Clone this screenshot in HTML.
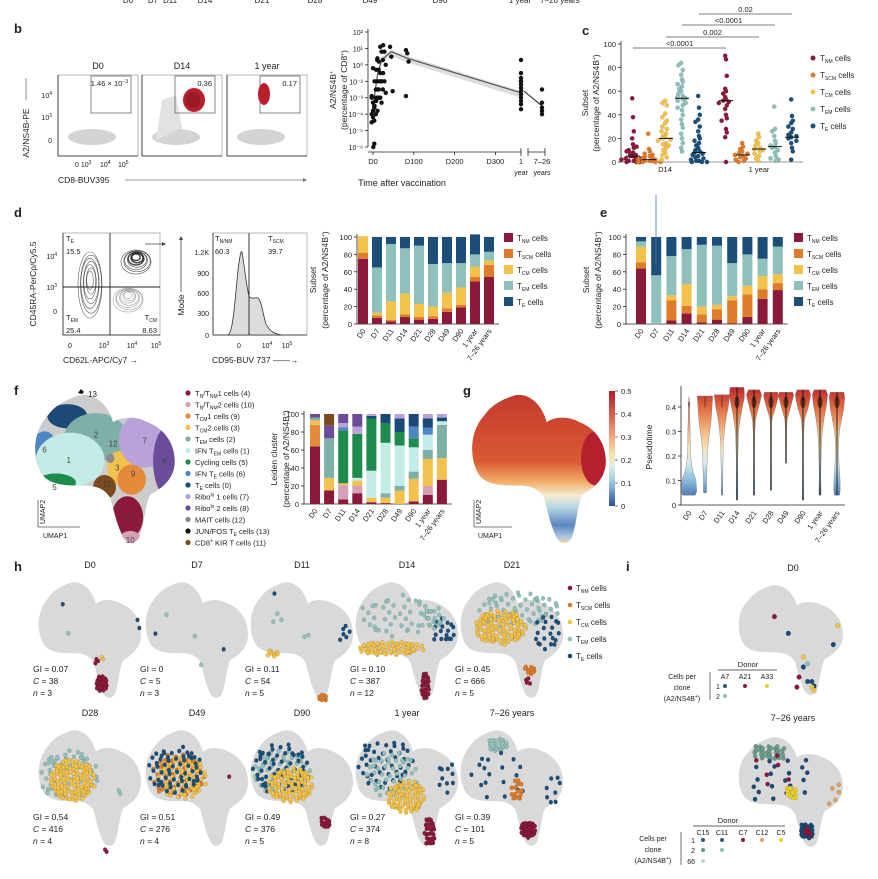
<!DOCTYPE html>
<html><head><meta charset="utf-8">
<style>
html,body{margin:0;padding:0;background:#fff;}
svg{display:block;font-family:"Liberation Sans",sans-serif;}
text{fill:#222;}
</style></head>
<body>
<svg id="fig" width="878" height="879" viewBox="0 0 878 879" xmlns="http://www.w3.org/2000/svg">
<defs>
<linearGradient id="pseudoGrad" x1="0" y1="0" x2="0" y2="1">
<stop offset="0" stop-color="#b2182b"/><stop offset="0.2" stop-color="#d6604d"/><stop offset="0.4" stop-color="#f4a582"/><stop offset="0.55" stop-color="#f6e3a6"/><stop offset="0.65" stop-color="#e0f0ec"/><stop offset="0.8" stop-color="#92c5de"/><stop offset="1" stop-color="#2c4f96"/>
</linearGradient>
<linearGradient id="umapG" x1="0" y1="0" x2="0" y2="1">
<stop offset="0" stop-color="#c33a2e"/><stop offset="0.45" stop-color="#d95a35"/><stop offset="0.58" stop-color="#f2a863"/><stop offset="0.68" stop-color="#f5ecd0"/><stop offset="0.76" stop-color="#b7d8e6"/><stop offset="0.88" stop-color="#5b86c0"/><stop offset="0.97" stop-color="#b8cde0"/><stop offset="1" stop-color="#f0cf7a"/>
</linearGradient>
</defs>
</svg>
<script>
// ---------- data: panel b line chart ----------
const bYTickLabels = ['10²','10¹','10⁰','10⁻²','10⁻³','10⁻⁴','10⁻⁵','10⁻⁶'];
const bYTickValues = [2,1,0,-1,-2,-3,-4,-5];
const bXTickLabels = ['D0','D100','D200','D300'];
const bXTickDays = [0,100,200,300];
const bDays = [0,4,7,11,14,21,28,45,84];
const bDayValues = [
 [-2,-2.3,-2.6,-3,-3.2,-3.4,-3.5,-2.8,-2.5,-1.9,-0.2,-4.8],
 [-5.2],
 [-1,-1.5,-2,-2.5,-3,0.3],
 [-0.3,-1,-1.5,-2,-2.8,0.2,-2.2],
 [0.4,-0.3,-1,-1.5,-2],
 [1.1,0.8,0.3,-0.5,-1,-1.5,-2,-2.3],
 [1.2,0.8,0,-0.5,-1,-1.7],
 [1.1,0.5,-1.6],
 [0.9,0.7,0.2,-1.9]];
const bYearValues = [0.3,-0.5,-0.8,-1,-1.2,-1.4,-1.6,-1.8,-2,-2.2,-2.4,-2.7,-1];
const bLongValues = [-1.5,-2.3,-2.6,-2.8,-3];
const bMeanDays = [0,11,21,45,84];
const bMeanVals = [-2.5,-0.6,0.3,0.8,0.4];
const bMeanYear = -1.7;
const bMeanLong = -2.5;

// ---------- data: panel c dot plot ----------
const cSubsets = ['TNM','TSCM','TCM','TEM','TE'];
const cD14 = [
 [54,38,26,20,15,12,10,8,7,6,5,5,4,3,3,2,2,1,1,0,0,0,13,9],
 [24,11,9,7,6,5,4,3,3,2,2,1,1,1,0,0,0,0],
 [52,50,48,41,38,35,33,30,28,26,24,22,21,20,19,18,16,15,14,12,10,8,6,4,2],
 [84,82,78,74,70,68,66,64,62,60,58,56,55,54,53,52,50,48,46,44,40,36,32,29,24,20,16,12,9],
 [56,46,40,36,34,30,26,22,20,18,16,14,12,10,9,8,7,6,5,4,3,2,1,1,0,0,0]];
const c1Y = [
 [90,87,73,62,60,58,55,53,52,51,50,48,45,40,37,35,28,25,21,0],
 [16,13,11,9,8,7,6,5,4,3,2,1,0],
 [24,21,18,16,14,12,11,10,9,7,5,3,1],
 [47,28,26,22,18,16,14,13,12,10,8,5,3,2,1],
 [53,39,35,33,30,28,25,23,22,21,20,18,16,12,9,2]];
const cMedD14 = [5,2,20,54,8];
const cMed1Y = [52,6,11,13,21];
const cPLabels = ['<0.0001','0.002','<0.0001','0.02'];
const cYTicks = [0,20,40,60,80,100];

// ---------- data: stacked bars d/e ----------
const timeLabels = ['D0','D7','D11','D14','D21','D28','D49','D90','1 year','7–26 years'];
const dTNM  = [75,7,3,8,5,6,14,19,49,54];
const dTSCM = [7,3,2,3,3,3,4,3,5,14];
const dTCM  = [19,3,21,24,15,11,18,20,12,5];
const dTEM  = [0,52,66,52,67,49,34,28,14,10];
const dTE   = [0,35,8,13,10,31,30,30,23,17];
const eTNM  = [64,0,4,12,2,5,1,8,29,39];
const eTSCM = [7,0,23,9,9,12,26,26,11,8];
const eTCM  = [18,0,6,25,9,5,5,10,15,10];
const eTEM  = [6,56,45,40,71,68,38,36,20,32];
const eTE   = [5,44,22,14,9,10,30,20,25,11];

// ---------- data: Leiden clusters f ----------
const leidenNames = ['TN/TNM1','TN/TNM2','TCM1','TCM2','TEM','IFN TEM','Cycling','IFN TE','TE','Ribo1','Ribo2','MAIT','JUN/FOS','KIR'];
const leidenD0  = [64,0,24,5,3,0,0,0,0,0,4,0,0,0];
const leidenD7  = [15,0,0,14,44,0,0,0,0,0,14,0,0,13];
const leidenD11 = [5,16,0,2,0,0,59,3,0,5,10,0,0,0];
const leidenD14 = [12,8,0,6,0,3,49,0,0,8,14,0,0,0];
const leidenD21 = [2,0,0,5,0,30,58,0,3,2,0,0,0,0];
const leidenD28 = [1,0,0,6,5,56,22,0,10,0,0,0,0,0];
const leidenD49 = [0,0,0,15,5,45,15,0,15,5,0,0,0,0];
const leidenD90 = [3,0,0,25,8,27,10,13,14,0,0,0,0,0];
const leiden1Y  = [10,10,0,30,10,17,0,8,10,5,0,0,0,0];
const leidenLong= [27,0,0,24,37,4,0,0,4,4,0,0,0,0];

// ---------- data: violins g ----------
const vMin = [0.04,0.05,0.04,0.02,0.04,0.06,0.17,0.02,0.04,0.04];
const vMax = [0.42,0.445,0.45,0.48,0.47,0.46,0.46,0.47,0.47,0.46];
const vProfileD0  = [0,1,.9,.4,.2,.15,.15,.1,.05,.02,0];
const vProfileD7  = [0,.2,.2,.25,.3,.4,.6,.8,.9,1,.9];
const vProfileD11 = [0,.1,.1,.1,.15,.15,.3,.5,.8,1,.6];
const vProfileD14 = [0,.1,.1,.1,.1,.15,.2,.4,.7,1,.8];
const vProfileD21 = [0,.05,.05,.05,.05,.05,.1,.2,.6,1,.3];
const vProfileD28 = [0,.05,.05,.05,.05,.05,.05,.1,.6,1,.3];
const vProfileD49 = [0,0,0,.05,.05,.05,.05,.15,.6,1,.3];
const vProfileD90 = [0,.05,.05,.05,.05,.05,.1,.2,.7,1,.4];
const vProfile1Y  = [0,.15,.1,.1,.15,.2,.3,.5,.8,1,.4];
const vProfileLong= [0,.4,.4,.3,.2,.2,.3,.6,.9,1,.4];
const vTicks = [0,0.1,0.2,0.3,0.4];

// ---------- data: panel h stats ----------
const hTitles = ['D0','D7','D11','D14','D21','D28','D49','D90','1 year','7–26 years'];
const hGI = ['0.07','0','0.11','0.10','0.45','0.54','0.51','0.49','0.27','0.39'];
const hC = ['38','5','54','387','666','416','276','376','374','101'];
const hN = ['3','3','5','12','5','4','4','5','8','5'];

const COL = {TNM:'#8b1a3a',TSCM:'#e07b2a',TCM:'#f3c24a',TEM:'#8fc0bb',TE:'#1b4f7a'};
const subsetColors = [COL.TNM,COL.TSCM,COL.TCM,COL.TEM,COL.TE];
const leidenColors = ['#8b1a3a','#d6a0b8','#e58a3a','#f2c24e','#7fb0a8','#c4ece6','#1e8a4c','#4f86c6','#1b4a78','#b9a2d8','#6b4c9a','#8a8a8a','#111111','#7a4a1e'];

const svg = document.getElementById('fig');
const NS = 'http://www.w3.org/2000/svg';
function add(parent, tag, attrs, name) {
  const el = document.createElementNS(NS, tag);
  for (const k in attrs) el.setAttribute(k, attrs[k]);
  
  
  parent.appendChild(el);
  return el;
}
function T(x, y, s, size, anchor, name, extra) {
  const a = {x:x, y:y, 'font-size':size||8, 'text-anchor':anchor||'start'};
  if (extra) for (const k in extra) a[k] = extra[k];
  const el = add(svg, 'text', a, name);
  el.innerHTML = s;
  return el;
}
function line(x1,y1,x2,y2,stroke,w,name){ return add(svg,'line',{x1:x1,y1:y1,x2:x2,y2:y2,stroke:stroke||'#222','stroke-width':w||0.8},name); }
function subLabel(s){ return 'T<tspan font-size="5" dy="2">' + s + '</tspan><tspan dy="-2"> cells</tspan>'; }
function panelLabel(x,y,l){ T(x,y,l,13,'start','panel-label-'+l,{'font-weight':'bold'}); }

// ---------- header (cut off) ----------
const headerLabels = ['D0','D7','D11','D14','D21','D28','D49','D90','1 year','7–26 years'];
const headerX = [128,153,170,205,262,315,370,440,520,560];
headerLabels.forEach((l,i)=>T(headerX[i],3,l,8,'middle','header-tick-label'));

// ---------- panel b flow plots ----------
panelLabel(14,33,'b');
const flowBoxes = [58,142,227];
const flowTitles = ['D0','D14','1 year'];
const flowFreq = ['1.46 × 10<tspan font-size="5" dy="-3">−3</tspan>','0.36','0.17'];
flowBoxes.forEach((bx,i)=>{
  add(svg,'rect',{x:bx,y:75,width:80,height:81,fill:'#fff',stroke:'#999','stroke-width':0.7},'flow-plot-frame');
  line(bx,75,bx,156,'#222',0.8,'flow-y-axis');
  line(bx,156,bx+80,156,'#222',0.8,'flow-x-axis');
  T(bx+40,69,flowTitles[i],9,'middle','flow-plot-title');
  add(svg,'ellipse',{cx:bx+34,cy:137,rx:24,ry:8,fill:'#d4d4d4'},'cd8-negative-cloud');
  if(i===1){ add(svg,'path',{d:`M${bx+14} 140 L${bx+20} 100 L${bx+34} 95 L${bx+40} 128 Z`,fill:'#e2e2e2'},'cd8-cloud-spread'); }
  const gx = bx+33;
  add(svg,'rect',{x:gx,y:76,width:40,height:37,fill:'none',stroke:'#555','stroke-width':0.7},'tetramer-gate');
  T(gx+37,86,flowFreq[i],7.5,'end','gate-frequency');
});
add(svg,'ellipse',{cx:194,cy:100,rx:11,ry:12,fill:'#b8202e'},'d14-tetramer-positive-cells');
add(svg,'ellipse',{cx:193,cy:100,rx:7,ry:8,fill:'#8e1622',opacity:0.7},'d14-tetramer-core');
add(svg,'ellipse',{cx:264,cy:94,rx:6,ry:11,fill:'#b8202e'},'1y-tetramer-positive-cells');
T(52,98,'10<tspan font-size="5" dy="-3">4</tspan>',7,'end','flow-y-tick');
T(52,120,'10<tspan font-size="5" dy="-3">3</tspan>',7,'end','flow-y-tick');
T(52,143,'0',7,'end','flow-y-tick');
T(75,167,'0 10<tspan font-size="5" dy="-3">3</tspan>',7,'start','flow-x-tick');
T(100,167,'10<tspan font-size="5" dy="-3">4</tspan>',7,'start','flow-x-tick');
T(118,167,'10<tspan font-size="5" dy="-3">5</tspan>',7,'start','flow-x-tick');
T(58,183,'CD8-BUV395',8.5,'start','flow-x-title');
line(125,180,305,180,'#777',0.8,'flow-x-arrow');
add(svg,'path',{d:'M307 180 l-4 -2 v4 z',fill:'#777'},'flow-x-arrowhead');
T(0,0,'A2/NS4B-PE',8.5,'middle','flow-y-title',{transform:'translate(29,133) rotate(-90)'});
line(26,100,26,78,'#777',0.8,'flow-y-arrow');

// ---------- panel b line chart ----------
const bx0=368, byTop=32, byBot=147, bxBreak=521;
function bY(v){
  const n=bYTickValues.length, step=(byBot-byTop)/(n-1);
  if(v>=bYTickValues[0]) return byTop-(v-bYTickValues[0])*step;
  for(let i=0;i<n-1;i++){ const a=bYTickValues[i], b=bYTickValues[i+1];
    if(v<=a && v>=b) return byTop+step*(i+(a-v)/(a-b)); }
  return byBot;
}
function bX(d){ return 373 + d*0.408; }
const bXYear=521, bXLong=542;
line(bx0,byTop-3,bx0,byBot,'#222',0.8,'line-chart-y-axis');
line(bx0,byBot+5,bxBreak,byBot+5,'#222',0.8,'line-chart-x-axis');
line(528,byBot+5,545,byBot+5,'#222',0.8,'line-chart-x-axis-break');
bYTickLabels.forEach((l,i)=>{ const y=bY(bYTickValues[i]); line(bx0-3,y,bx0,y,'#222',0.8,'y-tick'); T(bx0-5,y+3,l,7,'end','y-tick-label'); });
bXTickLabels.forEach((l,i)=>{ const x=bX(bXTickDays[i]); line(x,byBot+5,x,byBot+8,'#222',0.8,'x-tick'); T(x,byBot+17,l,7.5,'middle','x-tick-label'); });
line(bXYear,byBot+1,bXYear,byBot+9,'#222',0.8,'x-tick'); line(528,byBot+1,528,byBot+9,'#222',0.8,'x-tick'); line(545,byBot+1,545,byBot+9,'#222',0.8,'x-tick');
T(bXYear,byBot+17,'1',7.5,'middle','x-tick-label'); T(bXYear,byBot+28,'year',7,'middle','x-tick-label');
T(bXLong,byBot+17,'7–26',7.5,'middle','x-tick-label'); T(bXLong,byBot+28,'years',7,'middle','x-tick-label');
T(402,186,'Time after vaccination',9,'middle','x-axis-title');
T(0,0,'A2/NS4B<tspan font-size="5" dy="-3">+</tspan>',8.5,'middle','y-axis-title',{transform:'translate(336,90) rotate(-90)'});
T(0,0,'(percentage of CD8<tspan font-size="5" dy="-3">+</tspan><tspan dy="3">)</tspan>',8.5,'middle','y-axis-title',{transform:'translate(347,90) rotate(-90)'});
let bandPts=[]; bMeanDays.forEach((d,i)=>bandPts.push([bX(d),bY(bMeanVals[i]+0.15)]));
bandPts.push([bXYear,bY(bMeanYear+0.1)]);
let bandLow=[]; bMeanDays.forEach((d,i)=>bandLow.push([bX(d),bY(bMeanVals[i]-0.25)])); bandLow.push([bXYear,bY(bMeanYear-0.3)]);
add(svg,'path',{d:'M'+bandPts.map(p=>p.join(' ')).join(' L')+' L'+bandLow.reverse().map(p=>p.join(' ')).join(' L')+'Z',fill:'#ddd'},'mean-confidence-band');
let meanPts = bMeanDays.map((d,i)=>[bX(d),bY(bMeanVals[i])]); meanPts.push([bXYear,bY(bMeanYear)]);
add(svg,'polyline',{points:meanPts.map(p=>p.join(',')).join(' '),fill:'none',stroke:'#555','stroke-width':1.2},'mean-trend-line');
line(bXYear+3,bY(bMeanYear+0.1),bXLong,bY(bMeanLong),'#222',1,'long-term-trend-line');
bDays.forEach((d,i)=>bDayValues[i].forEach((v,j)=>add(svg,'circle',{cx:bX(d)+(j%3-1)*1.3,cy:bY(v),r:2.2,fill:'#111'},'donor-frequency-point')));
bYearValues.forEach((v,j)=>add(svg,'circle',{cx:bXYear,cy:bY(v),r:2.2,fill:'#111'},'donor-frequency-point'));
bLongValues.forEach((v,j)=>add(svg,'circle',{cx:bXLong,cy:bY(v),r:2.2,fill:'#111'},'donor-frequency-point'));

// ---------- panel c dot plot ----------
panelLabel(582,35,'c');
const cAx=621, cY0=162, cY100=44;
function cY(v){ return cY0-(cY0-cY100)*v/100; }
const cX14=[633,649,666,682,699], cX1Y=[726,743,759,775,792];
line(cAx,cY100-3,cAx,cY0,'#222',0.8,'c-y-axis');
line(cAx,cY0,803,cY0,'#bbb',1.5,'c-x-axis');
cYTicks.forEach(t=>{ line(cAx-3,cY(t),cAx,cY(t),'#222',0.8,'c-y-tick'); T(cAx-5,cY(t)+3,String(t),7.5,'end','c-y-tick-label'); });
T(665,172,'D14',7.5,'middle','c-group-label'); T(759,172,'1 year',7.5,'middle','c-group-label');
T(0,0,'Subset',8.5,'middle','c-y-title',{transform:'translate(588,103) rotate(-90)'});
T(0,0,'(percentage of A2/NS4B<tspan font-size="5" dy="-3">+</tspan><tspan dy="3">)</tspan>',8.5,'middle','c-y-title',{transform:'translate(599,103) rotate(-90)'});
function beeswarm(vals, cx, color, name){
  const counts={};
  vals.forEach((v,idx)=>{ const k=Math.round(v/4); counts[k]=(counts[k]||0)+1; const n=counts[k];
    const off=(n%2?1:-1)*Math.floor(n/2)*3.6 + ((idx%3)-1)*0.8;
    add(svg,'circle',{cx:cx+off,cy:cY(v),r:2.2,fill:color,stroke:'rgba(0,0,0,0.25)','stroke-width':0.3},name); });
}
cSubsets.forEach((s,i)=>{ beeswarm(cD14[i],cX14[i],subsetColors[i],'d14-'+s.toLowerCase()+'-dot');
  line(cX14[i]-7,cY(cMedD14[i]),cX14[i]+7,cY(cMedD14[i]),'#111',1,'median-line');
  beeswarm(c1Y[i],cX1Y[i],subsetColors[i],'1y-'+s.toLowerCase()+'-dot');
  line(cX1Y[i]-7,cY(cMed1Y[i]),cX1Y[i]+7,cY(cMed1Y[i]),'#111',1,'median-line'); });
const sigY=[48,37,25,14];
cPLabels.forEach((l,i)=>{ const x1=[cX14[0],cX14[2],cX14[3],cX14[4]][i], x2=[cX1Y[0],cX1Y[2],cX1Y[3],cX1Y[4]][i];
  line(x1,sigY[i],x2,sigY[i],'#555',0.7,'significance-bracket'); T((x1+x2)/2,sigY[i]-2,l,7.5,'middle','p-value-label'); });
const legSub=['NM','SCM','CM','EM','E'];
legSub.forEach((s,i)=>{ add(svg,'circle',{cx:813,cy:58+i*17,r:2.5,fill:subsetColors[i]},'c-legend-marker'); T(820,61+i*17,subLabel(s),8,'start','c-legend-label'); });

// ---------- panel d flow ----------
panelLabel(14,217,'d');
add(svg,'rect',{x:63,y:233,width:97,height:102,fill:'#fff',stroke:'#999','stroke-width':0.7},'contour-frame');
line(63,233,63,335,'#222',0.8,'contour-y-axis'); line(63,335,160,335,'#222',0.8,'contour-x-axis');
const contourBlobs=[[90,285,12,33,'#333'],[136,262,15,12,'#222'],[128,300,15,12,'#888']];
contourBlobs.forEach((b,bi)=>{ for(let k=0;k<7;k++){ add(svg,'ellipse',{cx:b[0]+(k%2),cy:b[1]-k*0.8,rx:b[2]*(1-k*0.12),ry:b[3]*(1-k*0.12),fill:'none',stroke:b[4],'stroke-width':bi==1&&k>3?1.5:0.6,opacity:0.8},'contour-line'); } });
line(110,233,110,335,'#222',0.9,'contour-gate-vertical'); line(63,287,160,287,'#222',0.9,'contour-gate-horizontal');
T(66,241,'T<tspan font-size="5" dy="2">E</tspan>',7.5,'start','gate-label-te'); T(66,254,'15.5',7.5,'start','gate-value');
T(66,320,'T<tspan font-size="5" dy="2">EM</tspan>',7.5,'start','gate-label-tem'); T(66,333,'25.4',7.5,'start','gate-value');
T(157,320,'T<tspan font-size="5" dy="2">CM</tspan>',7.5,'end','gate-label-tcm'); T(157,333,'8.63',7.5,'end','gate-value');
T(57,259,'10<tspan font-size="5" dy="-3">4</tspan>',7,'end','contour-y-tick'); T(57,290,'10<tspan font-size="5" dy="-3">3</tspan>',7,'end','contour-y-tick'); T(57,314,'0',7,'end','contour-y-tick');
T(70,348,'0',7,'middle','contour-x-tick'); T(104,348,'10<tspan font-size="5" dy="-3">3</tspan>',7,'middle','contour-x-tick'); T(132,348,'10<tspan font-size="5" dy="-3">4</tspan>',7,'middle','contour-x-tick'); T(156,348,'10<tspan font-size="5" dy="-3">5</tspan>',7,'middle','contour-x-tick');
T(63,363,'CD62L-APC/Cy7 →',8.5,'start','contour-x-title');
T(0,0,'CD45RA-PerCp/Cy5.5',8.5,'middle','contour-y-title',{transform:'translate(36,284) rotate(-90)'});
line(145,244,163,244,'#444',0.8,'gate-arrow'); add(svg,'path',{d:'M166 244 l-4 -2 v4z',fill:'#444'},'gate-arrowhead');
add(svg,'rect',{x:213,y:233,width:94,height:102,fill:'#fff',stroke:'#999','stroke-width':0.7},'histogram-frame');
line(213,233,213,335,'#222',0.8,'histogram-y-axis'); line(213,335,307,335,'#222',0.8,'histogram-x-axis');
add(svg,'path',{d:'M228 335 C233 333 235 300 238 270 C240 255 241 250 242 252 C244 262 246 285 249 296 C251 300 254 297 258 298 C262 302 263 315 266 324 C270 332 275 334 282 335 Z',fill:'#dcdcdc',stroke:'#333','stroke-width':0.8},'cd95-histogram');
line(249,233,249,335,'#222',0.9,'cd95-gate-line');
[['1.2K',252],['900',273],['600',293],['300',313],['0',335]].forEach(t=>T(209,t[1]+3,t[0],7,'end','histogram-y-tick'));
T(215,241,'T<tspan font-size="5" dy="2">N/NM</tspan>',7.5,'start','hist-label-tn'); T(215,254,'60.3',7.5,'start','hist-value');
T(268,241,'T<tspan font-size="5" dy="2">SCM</tspan>',7.5,'start','hist-label-tscm'); T(268,254,'39.7',7.5,'start','hist-value');
T(239,348,'0',7,'middle','hist-x-tick'); T(267,348,'10<tspan font-size="5" dy="-3">4</tspan>',7,'middle','hist-x-tick'); T(287,348,'10<tspan font-size="5" dy="-3">5</tspan>',7,'middle','hist-x-tick');
T(212,363,'CD95-BUV 737 ——→',8.5,'start','hist-x-title');
T(0,0,'Mode',8.5,'middle','hist-y-title',{transform:'translate(184,305) rotate(-90)'});
line(181,292,181,240,'#444',0.8,'hist-y-arrow'); add(svg,'path',{d:'M181 236 l-2 4 h4z',fill:'#444'},'hist-y-arrowhead');

// ---------- stacked bar helper ----------
function stacked(opts){
  const {ax, y0, y100, x0, dx, w, series, colors, labels, prefix} = opts;
  const yS = v=> y0-(y0-y100)*v/100;
  line(ax,y100-3,ax,y0,'#222',0.8,prefix+'-y-axis'); line(ax,y0,x0+dx*(labels.length-1)+w,y0,'#222',0.8,prefix+'-x-axis');
  [0,20,40,60,80,100].forEach(t=>{ line(ax-3,yS(t),ax,yS(t),'#222',0.8,prefix+'-y-tick'); T(ax-5,yS(t)+3,String(t),7.5,'end',prefix+'-y-tick-label'); });
  labels.forEach((l,i)=>{
    const cx=x0+dx*i; let acc=0;
    series.forEach((s,k)=>{ const v=s[i]; if(v>0){ add(svg,'rect',{x:cx-w/2,y:yS(acc+v),width:w,height:yS(acc)-yS(acc+v),fill:colors[k]},prefix+'-bar-segment'); } acc+=v; });
    T(0,0,l,7.5,'end',prefix+'-x-tick-label',{transform:`translate(${cx+3},${y0+7}) rotate(-55)`});
  });
}
stacked({ax:357,y0:324,y100:237,x0:363,dx:14,w:10,series:[dTNM,dTSCM,dTCM,dTEM,dTE],colors:subsetColors,labels:timeLabels,prefix:'d'});
T(0,0,'Subset',8.5,'middle','d-y-title',{transform:'translate(316,280) rotate(-90)'});
T(0,0,'(percentage of A2/NS4B<tspan font-size="5" dy="-3">+</tspan><tspan dy="3">)</tspan>',8.5,'middle','d-y-title',{transform:'translate(328,280) rotate(-90)'});
legSub.forEach((s,i)=>{ add(svg,'rect',{x:504,y:233+i*16,width:9,height:9,fill:subsetColors[i]},'d-legend-swatch'); T(517,241+i*16,subLabel(s),8,'start','d-legend-label'); });
panelLabel(600,217,'e');
stacked({ax:626,y0:324,y100:237,x0:641,dx:15.2,w:10,series:[eTNM,eTSCM,eTCM,eTEM,eTE],colors:subsetColors,labels:timeLabels,prefix:'e'});
line(656,195,656,265,'#4a77a8',0.8,'e-error-bar');
T(0,0,'Subset',8.5,'middle','e-y-title',{transform:'translate(589,280) rotate(-90)'});
T(0,0,'(percentage of A2/NS4B<tspan font-size="5" dy="-3">+</tspan><tspan dy="3">)</tspan>',8.5,'middle','e-y-title',{transform:'translate(601,280) rotate(-90)'});
legSub.forEach((s,i)=>{ add(svg,'rect',{x:794,y:233+i*16,width:9,height:9,fill:subsetColors[i]},'e-legend-swatch'); T(807,241+i*16,subLabel(s),8,'start','e-legend-label'); });

// ---------- UMAP shape ----------
const UMAP_D='M30 3 C40 -1 52 6 56 20 C62 16 72 16 80 20 C92 24 100 35 99 48 C98 58 90 64 82 68 C78 76 78 88 74 97 C70 102 64 100 62 94 C58 86 56 76 54 70 C50 64 44 62 36 62 C22 62 8 62 4 50 C-1 38 2 24 10 16 C16 8 24 5 30 3 Z';
let clipId=0;
function umap(x,y,w,h,fill,name){
  const g=add(svg,'g',{transform:`translate(${x},${y}) scale(${w/100},${h/100})`},name);
  const cid='clip'+(clipId++);
  const cp=add(g,'clipPath',{id:cid},'umap-clip'); add(cp,'path',{d:UMAP_D},'umap-clip-path');
  add(g,'path',{d:UMAP_D,fill:fill},'umap-outline');
  const inner=add(g,'g',{'clip-path':`url(#${cid})`},'umap-clusters');
  return {g:g,inner:inner,sx:w/100,sy:h/100};
}
panelLabel(14,395,'f');
const fU=umap(33,392,143,151,'#ccc','leiden-umap');
const fClusters=[[8,24,16,14,8],[7,8,38,9,12],[4,44,30,22,16],[5,26,45,24,18],[6,16,60,14,6],[3,61,50,9,11],[13,50,63,8,8],[2,69,58,10,10],[9,78,32,18,18],[10,93,46,9,22],[0,66,83,11,14],[1,68,98,8,6],[11,54,44,3,3]];
fClusters.forEach(c=>add(fU.inner,'ellipse',{cx:c[1],cy:c[2],rx:c[3],ry:c[4],fill:leidenColors[c[0]]},'leiden-cluster-region'));
const fNums=[['0',25,15],['6',8,38],['2',44,28],['1',25,45],['5',15,63],['12',56,34],['3',59,50],['7',78,32],['8',92,46],['9',70,54],['11',52,61],['4',66,83],['10',68,98]];
fNums.forEach(n=>T(33+n[1]*1.43,392+n[2]*1.51+3,n[0],8,'middle','cluster-number',{style:'fill:#444'}));
T(88,397,'13',8,'start','cluster-number');
add(svg,'path',{d:'M78 393 l3 -4 l3 3 l-2 2z',fill:'#111'},'cluster-13-cells');
line(38,500,38,527,'#555',0.8,'umap2-axis'); line(38,527,80,527,'#555',0.8,'umap1-axis');
T(0,0,'UMAP2',7,'start','umap2-label',{transform:'translate(45,524) rotate(-90)'}); T(43,538,'UMAP1',7,'start','umap1-label');
const fLegend=['T<tspan font-size="5" dy="2">N</tspan><tspan dy="-2">/T</tspan><tspan font-size="5" dy="2">NM</tspan><tspan dy="-2">1 cells (4)</tspan>','T<tspan font-size="5" dy="2">N</tspan><tspan dy="-2">/T</tspan><tspan font-size="5" dy="2">NM</tspan><tspan dy="-2">2 cells (10)</tspan>','T<tspan font-size="5" dy="2">CM</tspan><tspan dy="-2">1 cells (9)</tspan>','T<tspan font-size="5" dy="2">CM</tspan><tspan dy="-2">2 cells (3)</tspan>','T<tspan font-size="5" dy="2">EM</tspan><tspan dy="-2"> cells (2)</tspan>','IFN T<tspan font-size="5" dy="2">EM</tspan><tspan dy="-2"> cells (1)</tspan>','Cycling cells (5)','IFN T<tspan font-size="5" dy="2">E</tspan><tspan dy="-2"> cells (6)</tspan>','T<tspan font-size="5" dy="2">E</tspan><tspan dy="-2"> cells (0)</tspan>','Ribo<tspan font-size="5" dy="-3">lo</tspan><tspan dy="3"> 1 cells (7)</tspan>','Ribo<tspan font-size="5" dy="-3">lo</tspan><tspan dy="3"> 2 cells (8)</tspan>','MAIT cells (12)','JUN/FOS T<tspan font-size="5" dy="2">E</tspan><tspan dy="-2"> cells (13)</tspan>','CD8<tspan font-size="5" dy="-3">+</tspan><tspan dy="3"> KIR T cells (11)</tspan>'];
fLegend.forEach((l,i)=>{ add(svg,'circle',{cx:188,cy:393+i*11.5,r:2.6,fill:leidenColors[i]},'leiden-legend-marker'); T(195,396+i*11.5,l,7.5,'start','leiden-legend-label'); });
stacked({ax:304,y0:504,y100:414,x0:315,dx:14.1,w:10,series:leidenNames.map((n,k)=>[leidenD0[k],leidenD7[k],leidenD11[k],leidenD14[k],leidenD21[k],leidenD28[k],leidenD49[k],leidenD90[k],leiden1Y[k],leidenLong[k]]),colors:leidenColors,labels:timeLabels,prefix:'leiden'});
T(0,0,'Leiden cluster',8.5,'middle','leiden-y-title',{transform:'translate(277,459) rotate(-90)'});
T(0,0,'(percentage of A2/NS4B<tspan font-size="5" dy="-3">+</tspan><tspan dy="3">)</tspan>',8.5,'middle','leiden-y-title',{transform:'translate(289,459) rotate(-90)'});

// ---------- panel g ----------
panelLabel(463,395,'g');
const gU=umap(470,392,137,151,'url(#umapG)','pseudotime-umap');
add(gU.inner,'ellipse',{cx:92,cy:44,rx:11,ry:18,fill:'#b5202e'},'high-pseudotime-region');
line(474,500,474,527,'#555',0.8,'g-umap2-axis'); line(474,527,512,527,'#555',0.8,'g-umap1-axis');
T(0,0,'UMAP2',7,'start','g-umap2-label',{transform:'translate(481,524) rotate(-90)'}); T(478,538,'UMAP1',7,'start','g-umap1-label');
add(svg,'rect',{x:609,y:391,width:6,height:115,fill:'url(#pseudoGrad)'},'pseudotime-colorbar');
[0,0.1,0.2,0.3,0.4,0.5].forEach(t=>{ const y=506-t*230; line(615,y,618,y,'#222',0.6,'colorbar-tick'); T(621,y+3,String(t),7.5,'start','colorbar-tick-label'); });
const vAx=681, vY0=505;
function vY(v){ return vY0 - v*245; }
line(vAx,386,vAx,vY0,'#222',0.8,'violin-y-axis'); line(vAx,vY0,845,vY0,'#222',0.8,'violin-x-axis');
vTicks.forEach(t=>{ line(vAx-3,vY(t),vAx,vY(t),'#222',0.8,'violin-y-tick'); T(vAx-5,vY(t)+3,String(t),7.5,'end','violin-y-tick-label'); });
T(0,0,'Pseudotime',8.5,'middle','violin-y-title',{transform:'translate(652,447) rotate(-90)'});
const vgr=add(svg,'linearGradient',{id:'vGrad',gradientUnits:'userSpaceOnUse',x1:0,y1:vY(0.5),x2:0,y2:vY(0)},'violin-gradient');
[['0','#b2182b'],['0.2','#e06a3e'],['0.4','#f4b883'],['0.55','#f3e7bb'],['0.65','#d8ece9'],['0.8','#8bbbdc'],['1','#2c4f96']].forEach(s=>add(vgr,'stop',{offset:s[0],'stop-color':s[1]},'gradient-stop'));
const vProfiles=[vProfileD0,vProfileD7,vProfileD11,vProfileD14,vProfileD21,vProfileD28,vProfileD49,vProfileD90,vProfile1Y,vProfileLong];
const vX=[689,705,722,737,754,771,786,803,820,837];
vProfiles.forEach((p,i)=>{
  const lo=vMin[i], hi=vMax[i], cx=vX[i], W=7.8;
  const hw = v=>{ const f=v/0.05; const k=Math.min(9,Math.floor(f)); const t=f-k; return W*(p[k]*(1-t)+p[k+1]*t); };
  const pts=[]; const n=24;
  for(let j=0;j<=n;j++){ const v=lo+(hi-lo)*j/n; pts.push([cx+Math.max(hw(v),0.6),vY(v)]); }
  const left=pts.map(q=>[2*cx-q[0],q[1]]).reverse();
  add(svg,'path',{d:'M'+pts.map(q=>q.join(' ')).join(' L')+' L'+left.map(q=>q.join(' ')).join(' L')+'Z',fill:'url(#vGrad)',stroke:'#777','stroke-width':0.4},'pseudotime-violin');
  if(i>=3) add(svg,'rect',{x:cx-0.8,y:vY(hi),width:1.6,height:vY(lo)-vY(hi),fill:'#111',opacity:0.55},'cell-strip');
  add(svg,'ellipse',{cx:cx,cy:vY(0.42),rx:i>=3?2.5:1.2,ry:6,fill:'#111',opacity:i>=3?0.6:0.25},'dense-cell-cluster');
  T(0,0,timeLabels[i],7.5,'end','violin-x-tick-label',{transform:`translate(${cx+3},${vY0+8}) rotate(-55)`});
});

// ---------- panel h ----------
panelLabel(14,571,'h');
const hCols=[37,144,249,354,459], hRows=[580,728];
const hDotClusters = [
 [['TNM',62,88,6,7,28],['TNM',57,70,2,3,3],['TCM',62,66,2,2,2],['TE',25,20,1,1,1],['TE',95,42,3,12,2],['TEM',30,45,1,1,1]],
 [['TEM',22,30,1,1,1],['TE',10,45,1,1,1],['TEM',48,48,1,1,1],['TE',76,58,1,1,1],['TEM',55,72,1,1,1]],
 [['TE',25,12,1,1,1],['TEM',25,30,8,6,3],['TEM',55,48,3,2,2],['TCM',22,62,6,3,8],['TSCM',70,100,5,3,8],['TE',90,44,6,8,6]],
 [['TEM',40,30,35,18,40],['TCM',35,58,32,6,80],['TE',85,42,12,12,18],['TEM',76,32,10,10,16],['TNM',68,90,4,12,28]],
 [['TEM',55,25,40,15,60],['TCM',40,40,25,15,120],['TE',84,44,14,16,20],['TSCM',66,76,6,4,10],['TNM',66,86,3,3,4]],
 [['TEM',30,40,28,22,70],['TCM',34,44,22,18,130],['TNM',64,105,3,2,2],['TEM',80,55,3,3,2]],
 [['TSCM',33,40,26,20,70],['TCM',36,42,24,18,90],['TE',30,35,26,20,60],['TNM',80,40,2,2,1]],
 [['TEM',32,38,28,20,70],['TE',30,35,28,22,60],['TCM',40,48,22,15,110],['TNM',72,80,5,5,14]],
 [['TE',30,30,28,22,50],['TEM',36,40,25,20,50],['TCM',50,58,18,14,90],['TNM',72,88,5,14,30],['TE',88,42,10,14,10]],
 [['TEM',36,14,10,6,22],['TE',40,40,30,22,18],['TSCM',55,54,6,10,15],['TNM',66,86,7,7,40],['TE',90,50,8,14,8]]];
function jitter(k){ const a=(0.5+k*0.7548776662)%1, b=(0.5+k*0.5698402910)%1; return [a*2-1,b*2-1]; }
hTitles.forEach((t,i)=>{
  const r=Math.floor(i/5), c=i%5, x=hCols[c], y=hRows[r];
  T(x+53,y-12,t,9,'middle','umap-timepoint-title');
  const U=umap(x,y,105,118,'#d9d9d9','timepoint-umap');
  let k=1+i*37;
  hDotClusters[i].forEach(cl=>{ for(let j=0;j<cl[5];j++){ let [a,b]=jitter(k++); if(a*a+b*b>1){a*=0.7;b*=0.7;}
    add(U.g,'circle',{cx:cl[1]+a*cl[3],cy:cl[2]+b*cl[4],r:1.8,fill:COL[cl[0]],stroke:'rgba(0,0,0,0.3)','stroke-width':0.3},'clone-cell-dot'); } });
  T(x-4,y+92,'GI = '+hGI[i],8.5,'start','gini-index');
  T(x-4,y+104,'<tspan font-style="italic">C</tspan> = '+hC[i],8.5,'start','clone-count');
  T(x-4,y+116,'<tspan font-style="italic">n</tspan> = '+hN[i],8.5,'start','donor-count');
});
legSub.forEach((s,i)=>{ add(svg,'circle',{cx:570,cy:588+i*17,r:2.3,fill:subsetColors[i]},'h-legend-marker'); T(576,591+i*17,subLabel(s),8,'start','h-legend-label'); });

// ---------- panel i ----------
panelLabel(626,571,'i');
T(793,571,'D0',9,'middle','i-d0-title');
const iU1=umap(737,583,107,112,'#d9d9d9','i-d0-umap');
const iDots1=[['#8b1a3a',35,30],['#1b4a78',48,45],['#f3c24a',94,38],['#1b4a78',90,55],['#8fc0bb',66,72],['#f3c24a',62,66],['#1b4a78',62,75],['#8b1a3a',58,84],['#8b1a3a',56,93],['#1b4a78',70,88],['#1b4a78',72,92],['#f3c24a',72,96],['#f3c24a',70,93],['#1b4a78',66,88]];
iDots1.forEach(d=>add(iU1.g,'circle',{cx:d[1],cy:d[2],r:2.2,fill:d[0],stroke:'rgba(0,0,0,0.3)','stroke-width':0.3},'i-clone-dot'));
T(748,667,'Donor',7.5,'middle','i-donor-title'); line(718,670,777,670,'#333',0.7,'donor-underline');
T(725,679,'A7',7,'middle','donor-a7'); T(745,679,'A21',7,'middle','donor-a21'); T(767,679,'A33',7,'middle','donor-a33');
T(682,679,'Cells per',7,'middle','cells-per-clone-label'); T(682,690,'clone',7,'middle','cells-per-clone-label'); T(682,701,'(A2/NS4B<tspan font-size="5" dy="-3">+</tspan><tspan dy="3">)</tspan>',7,'middle','cells-per-clone-label');
line(710,672,710,700,'#333',0.7,'legend-bar');
T(716,689,'1',7,'start','clone-size-1'); T(716,699,'2',7,'start','clone-size-2');
add(svg,'circle',{cx:725,cy:686,r:2,fill:'#2c5a70'},'legend-dot'); add(svg,'circle',{cx:745,cy:686,r:2,fill:'#8b1a3a'},'legend-dot'); add(svg,'circle',{cx:767,cy:686,r:2,fill:'#e8d030'},'legend-dot'); add(svg,'circle',{cx:725,cy:696,r:2,fill:'#8fc0bb'},'legend-dot');
T(793,721,'7–26 years',9,'middle','i-long-title');
const iU2=umap(737,735,107,112,'#d9d9d9','i-long-umap');
const iClusters=[['#6a9c8a',30,15,14,6,30],['#1b4a78',40,40,30,20,20],['#e8d030',50,52,5,5,12],['#1b4a78',66,86,6,6,30],['#8b1a3a',66,86,3,3,6],['#e0a060',90,50,6,12,5],['#8b1a3a',30,30,20,15,6]];
let kk=500;
iClusters.forEach(cl=>{ for(let j=0;j<cl[5];j++){ let [a,b]=jitter(kk++); add(iU2.g,'circle',{cx:cl[1]+a*cl[3],cy:cl[2]+b*cl[4],r:2,fill:cl[0],stroke:'rgba(0,0,0,0.3)','stroke-width':0.3},'i-clone-dot'); } });
T(728,823,'Donor',7.5,'middle','i-donor-title'); line(693,826,785,826,'#333',0.7,'donor-underline');
['C15','C11','C7','C12','C5'].forEach((d,j)=>T([703,722,743,762,781][j],835,d,7,'middle','donor-id'));
T(653,841,'Cells per',7,'middle','cells-per-clone-label'); T(653,852,'clone',7,'middle','cells-per-clone-label'); T(653,863,'(A2/NS4B<tspan font-size="5" dy="-3">+</tspan><tspan dy="3">)</tspan>',7,'middle','cells-per-clone-label');
line(681,832,681,865,'#333',0.7,'legend-bar');
T(695,843,'1',7,'end','clone-size-1'); T(695,853,'2',7,'end','clone-size-2'); T(695,864,'66',7,'end','clone-size-66');
[[703,840,'#2c5a70'],[722,840,'#2c5a70'],[743,840,'#8b1a3a'],[762,840,'#e0a060'],[781,840,'#e8d030'],[703,850,'#5d9c86'],[722,850,'#8fc0bb'],[703,861,'#b8d8c8']].forEach(d=>add(svg,'circle',{cx:d[0],cy:d[1],r:2,fill:d[2]},'legend-dot'));
</script>
</body></html>
